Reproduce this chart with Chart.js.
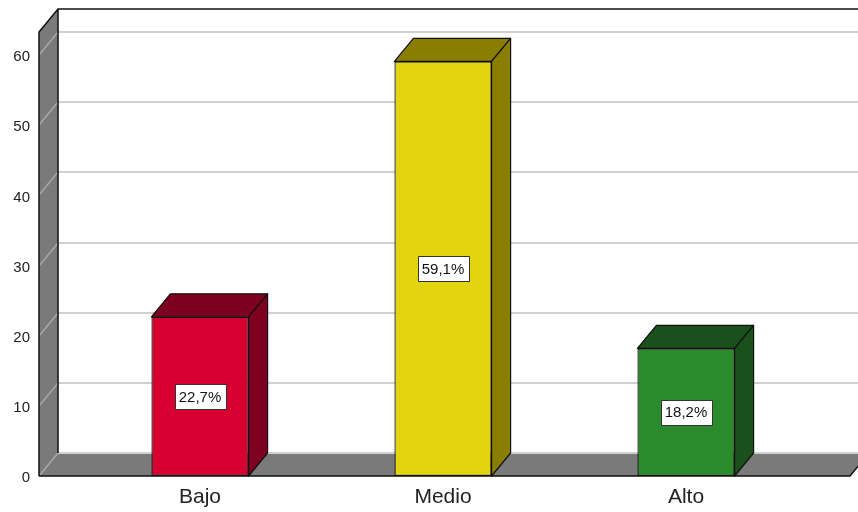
<!DOCTYPE html>
<html>
<head>
<meta charset="utf-8">
<script src="https://cdn.jsdelivr.net/npm/chart.js@4"></script>
<style>
  html, body { margin: 0; padding: 0; background: #fff; }
  #wrap { width: 858px; height: 512px; position: relative; }
</style>
</head>
<body>
<div id="wrap"><canvas id="chart"></canvas></div>
<script>
const categories = ['Bajo', 'Medio', 'Alto'];
const percentages = [22.7, 59.1, 18.2];
const yTicks = [0, 10, 20, 30, 40, 50, 60];
const yMax = 63.3;

const frontColors = ['#d70030', '#e3d40f', '#2a8a2c'];
const darkColors = ['#7e0020', '#8a7e00', '#1b4f1b'];

// depth of the 3d box
const DX = 19, DY = 23;
const WALL = '#7a7a7a';

const box3d = {
  id: 'box3d',
  beforeDatasetsDraw(chart) {
    const { ctx, chartArea: ca, scales: { y } } = chart;
    const wx = ca.left - 39.5;
    const fx = ca.right + 42.5;
    const W = chart.width;
    ctx.save();

    // left wall
    ctx.fillStyle = WALL;
    ctx.beginPath();
    ctx.moveTo(wx, ca.bottom);
    ctx.lineTo(wx, ca.top);
    ctx.lineTo(wx + DX, ca.top - DY);
    ctx.lineTo(wx + DX, ca.bottom - DY);
    ctx.closePath();
    ctx.fill();

    // floor
    ctx.beginPath();
    ctx.moveTo(wx, ca.bottom);
    ctx.lineTo(fx, ca.bottom);
    ctx.lineTo(fx + DX, ca.bottom - DY);
    ctx.lineTo(wx + DX, ca.bottom - DY);
    ctx.closePath();
    ctx.fill();

    // grid lines on back wall and left wall
    yTicks.forEach(v => {
      const py = Math.round(y.getPixelForValue(v));
      ctx.strokeStyle = '#d0d0d0';
      ctx.lineWidth = 2;
      ctx.beginPath();
      ctx.moveTo(wx + DX, py - DY);
      ctx.lineTo(W, py - DY);
      ctx.stroke();
      ctx.strokeStyle = '#a8a8a8';
      ctx.lineWidth = 1.5;
      ctx.beginPath();
      ctx.moveTo(wx, py);
      ctx.lineTo(wx + DX, py - DY);
      ctx.stroke();
    });

    // outlines
    ctx.strokeStyle = '#111';
    ctx.lineWidth = 1.5;
    ctx.beginPath();
    ctx.moveTo(wx, ca.bottom);
    ctx.lineTo(wx, ca.top);
    ctx.lineTo(wx + DX, ca.top - DY);
    ctx.lineTo(W, ca.top - DY);
    ctx.moveTo(wx + DX, ca.top - DY);
    ctx.lineTo(wx + DX, ca.bottom - DY);
    ctx.moveTo(wx, ca.bottom);
    ctx.lineTo(fx, ca.bottom);
    ctx.lineTo(fx + DX, ca.bottom - DY);
    ctx.stroke();
    ctx.restore();
  },
  afterDatasetsDraw(chart) {
    const { ctx } = chart;
    const bars = chart.getDatasetMeta(0).data;
    ctx.save();
    ctx.lineWidth = 1.2;
    ctx.strokeStyle = '#111';
    ctx.lineJoin = 'round';
    bars.forEach((bar, i) => {
      const l = bar.x - bar.width / 2, r = bar.x + bar.width / 2;
      const t = bar.y, b = bar.base;
      ctx.fillStyle = darkColors[i];
      // top face
      ctx.beginPath();
      ctx.moveTo(l, t);
      ctx.lineTo(l + DX, t - DY);
      ctx.lineTo(r + DX, t - DY);
      ctx.lineTo(r, t);
      ctx.closePath();
      ctx.fill();
      ctx.stroke();
      // side face
      ctx.beginPath();
      ctx.moveTo(r, t);
      ctx.lineTo(r + DX, t - DY);
      ctx.lineTo(r + DX, b - DY);
      ctx.lineTo(r, b);
      ctx.closePath();
      ctx.fill();
      ctx.stroke();

      // value label
      const txt = percentages[i].toFixed(1).replace('.', ',') + '%';
      ctx.font = '15px "Liberation Sans", Arial, sans-serif';
      const tw = ctx.measureText(txt).width;
      const cx = bar.x, cy = (t + b) / 2;
      const bw = Math.round(tw + 8), bh = 25;
      const bx = Math.round(cx - bw / 2) + 0.5, by = Math.round(cy - bh / 2) + 0.5;
      ctx.fillStyle = '#fff';
      ctx.fillRect(bx, by, bw, bh);
      ctx.lineWidth = 1;
      ctx.strokeStyle = '#333';
      ctx.strokeRect(bx, by, bw, bh);
      ctx.lineWidth = 1.2;
      ctx.strokeStyle = '#111';
      ctx.fillStyle = '#111';
      ctx.textAlign = 'center';
      ctx.textBaseline = 'middle';
      ctx.fillText(txt, cx, cy + 1);
    });
    ctx.restore();
  }
};

new Chart(document.getElementById('chart'), {
  type: 'bar',
  data: {
    labels: categories,
    datasets: [{
      data: percentages,
      backgroundColor: frontColors,
      borderColor: '#111',
      borderWidth: 1.3,
      borderSkipped: false,
      barPercentage: 0.4,
      categoryPercentage: 1
    }]
  },
  options: {
    responsive: true,
    maintainAspectRatio: false,
    animation: false,
    layout: { padding: { top: 32, right: 50.5, left: 0, bottom: 0 } },
    plugins: { legend: { display: false }, tooltip: { enabled: false } },
    scales: {
      x: {
        grid: { display: false, drawTicks: false },
        border: { display: false },
        ticks: {
          color: '#222',
          padding: 9,
          font: { family: '"Liberation Sans", Arial, sans-serif', size: 21 }
        },
        afterFit(s) { s.height = 36; s.paddingLeft = 0; s.paddingRight = 0; }
      },
      y: {
        min: 0,
        max: yMax,
        grid: { display: false, drawTicks: false },
        border: { display: false },
        afterBuildTicks(s) { s.ticks = yTicks.map(v => ({ value: v })); },
        ticks: {
          color: '#222',
          padding: 48.5,
          labelOffset: 2,
          font: { family: '"Liberation Sans", Arial, sans-serif', size: 15 }
        },
        afterFit(s) { s.width = 78.5; s.paddingTop = 0; s.paddingBottom = 0; }
      }
    }
  },
  plugins: [box3d]
});
</script>
</body>
</html>
